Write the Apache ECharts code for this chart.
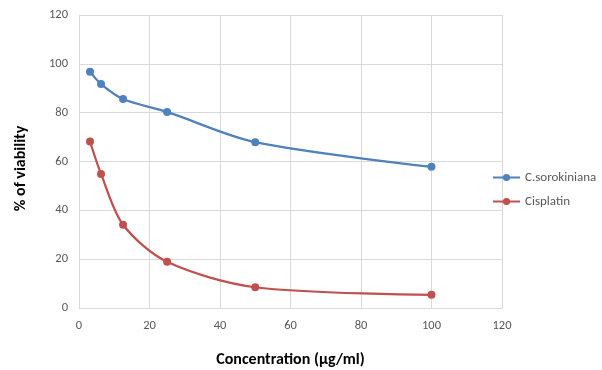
<!DOCTYPE html>
<html><head><meta charset="utf-8">
<script src="https://cdn.jsdelivr.net/npm/echarts@6/dist/echarts.min.js"></script>
<style>html,body{margin:0;padding:0;background:#fff}#c{width:602px;height:370px}</style>
</head><body><div id="c"></div>
<script>
const concentrations = [3.125, 6.25, 12.5, 25, 50, 100];
const sorokiniana = [96.8, 91.7, 85.6, 80.3, 67.9, 57.8];
const cisplatin = [68.2, 54.9, 34.1, 18.9, 8.5, 5.4];
const seriesNames = ['C.sorokiniana', 'Cisplatin'];
const xTitle = 'Concentration (µg/ml)';
const yTitle = '% of viability';

const pair = (xs, ys) => xs.map((x, i) => [x, ys[i]]);
const chart = echarts.init(document.getElementById('c'), null, {renderer: 'canvas'});
const font = 'Calibri, Carlito, "Liberation Sans", "Open Sans", sans-serif';
chart.setOption({
  animation: false,
  textStyle: {fontFamily: font},
  grid: {left: 79, top: 15, right: 100, bottom: 62, containLabel: false, outerBoundsMode: 'none'},
  legend: {
    orient: 'vertical', left: 487, top: 166, itemWidth: 27, itemHeight: 9, itemGap: 11,
    textStyle: {color: '#595959', fontSize: 13, fontFamily: font},
    data: seriesNames
  },
  xAxis: {
    type: 'value', min: 0, max: 120, interval: 20,
    name: xTitle, nameLocation: 'middle', nameGap: 44,
    nameTextStyle: {color: '#000', fontWeight: 'bold', fontSize: 16, fontFamily: font},
    axisLine: {show: true, lineStyle: {color: '#d9d9d9'}},
    axisTick: {show: false},
    axisLabel: {color: '#595959', fontSize: 12.5, margin: 11},
    splitLine: {show: true, lineStyle: {color: '#d9d9d9'}}
  },
  yAxis: {
    type: 'value', min: 0, max: 120, interval: 20,
    name: yTitle, nameLocation: 'middle', nameGap: 50,
    nameTextStyle: {color: '#000', fontWeight: 'bold', fontSize: 16, fontFamily: font, padding: [0, 14, 0, 0]},
    axisLine: {show: false},
    axisTick: {show: false},
    axisLabel: {color: '#595959', fontSize: 12.5, margin: 11},
    splitLine: {show: true, lineStyle: {color: '#d9d9d9'}}
  },
  series: [
    {name: seriesNames[0], type: 'line', smooth: 0.3, data: pair(concentrations, sorokiniana),
     symbol: 'circle', symbolSize: 8, color: '#4F81BD', lineStyle: {width: 2.25}},
    {name: seriesNames[1], type: 'line', smooth: 0.3, data: pair(concentrations, cisplatin),
     symbol: 'circle', symbolSize: 8, color: '#C0504D', lineStyle: {width: 2.25}}
  ]
});
</script></body></html>
